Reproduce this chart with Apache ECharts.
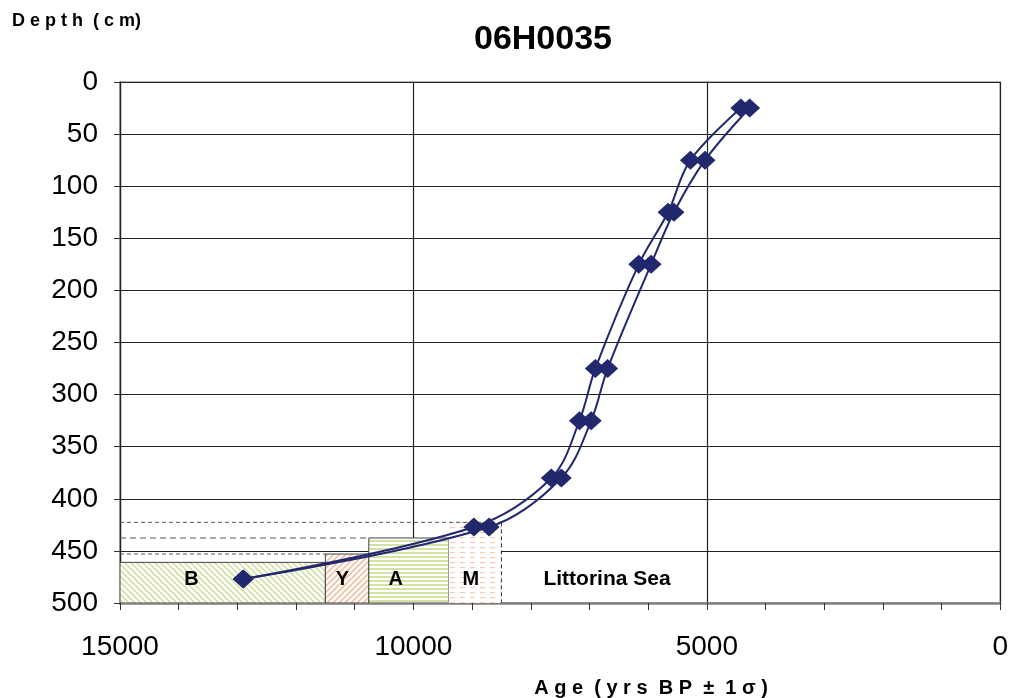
<!DOCTYPE html>
<html>
<head>
<meta charset="utf-8">
<script src="https://cdn.jsdelivr.net/npm/echarts@6/dist/echarts.min.js"></script>
<style>
html,body{margin:0;padding:0;background:#fff;}
#c{width:1011px;height:698px;}
</style>
</head>
<body>
<div id="c"></div>
<script>
// ---- data ----
const depths = [25, 75, 125, 175, 275, 325, 380, 427, 477];
const ageOlder = [4420, 5280, 5660, 6160, 6900, 7170, 7650, 8970, 12900];
const ageYounger = [4270, 5030, 5560, 5950, 6690, 6970, 7480, 8710, 12900];

const zoneNames = ['B', 'Y', 'A', 'M'];
const zoneOld = [15000, 11500, 10760, 9400];
const zoneYoung = [11500, 10760, 9400, 8500];
const zoneTop = [461, 453, 437.6, 422.6];
const zoneLabelAge = [13780, 11210, 10300, 9020];
const zoneLabelDepth = 477;

const seaLabel = 'Littorina Sea';
const seaLabelAge = 6700;

const xTicks = [15000, 10000, 5000, 0];
const yTicks = [0, 50, 100, 150, 200, 250, 300, 350, 400, 450, 500];

const titleText = '06H0035';
const yTitle = 'D e p t h  ( c m)';
const xTitle = 'A g e  ( y r s  B P  ±  1 σ )';

// ---- patterns ----
function makePattern(kind) {
  const c = document.createElement('canvas');
  const s = 6;
  c.width = s; c.height = s;
  const g = c.getContext('2d');
  g.fillStyle = '#ffffff';
  g.fillRect(0, 0, s, s);
  g.lineWidth = 1.6;
  if (kind === 'B') {
    g.strokeStyle = '#d3e2a2';
    g.beginPath();
    g.moveTo(-1, -1); g.lineTo(s + 1, s + 1);
    g.moveTo(-1 - s, -1); g.lineTo(1, s + 1);
    g.moveTo(s - 1, -1); g.lineTo(2 * s + 1, s + 1);
    g.stroke();
  } else if (kind === 'Y') {
    g.strokeStyle = '#f6bfa0';
    g.beginPath();
    g.moveTo(-1, s + 1); g.lineTo(s + 1, -1);
    g.moveTo(-1 - s, s + 1); g.lineTo(1, -1);
    g.moveTo(s - 1, s + 1); g.lineTo(2 * s + 1, -1);
    g.stroke();
  } else if (kind === 'A') {
    c.height = 4;
    g.fillStyle = '#ffffff'; g.fillRect(0, 0, s, 4);
    g.fillStyle = '#d2e2a4'; g.fillRect(0, 0, s, 2);
  } else {
    c.width = 10; c.height = 5;
    g.fillStyle = '#ffffff'; g.fillRect(0, 0, 10, 5);
    g.fillStyle = '#f8ccb4'; g.fillRect(0, 2, 5, 1.2);
  }
  return { image: c, repeat: 'repeat' };
}
const patterns = zoneNames.map(makePattern);

const zoneData = zoneNames.map((n, i) => [zoneOld[i], zoneYoung[i], zoneTop[i], i, zoneLabelAge[i]]);

const lineColor = '#22286e';
const chart = echarts.init(document.getElementById('c'), null, { renderer: 'canvas' });

const option = {
  backgroundColor: '#ffffff',
  animation: false,
  graphic: [
    { type: 'text', x: 543, y: 40, z: 10,
      style: { text: titleText, font: 'bold 34px "Liberation Sans"', fill: '#000', textAlign: 'center', textVerticalAlign: 'middle' } },
    { type: 'text', x: 12, y: 21, z: 10,
      style: { text: yTitle, font: 'bold 18px "Liberation Sans"', fill: '#000', textAlign: 'left', textVerticalAlign: 'middle' } },
    { type: 'text', x: 651, y: 688, z: 10,
      style: { text: xTitle, font: 'bold 20px "Liberation Sans"', fill: '#000', textAlign: 'center', textVerticalAlign: 'middle' } }
  ],
  grid: { left: 120, right: 8, top: 82, bottom: 95, containLabel: false, show: true, borderColor: '#a0a0a0', borderWidth: 1.5 },
  xAxis: {
    type: 'value', min: 0, max: 15000, interval: 5000, inverse: true,
    axisLine: { show: true, onZero: false, lineStyle: { color: '#808080', width: 2.5 } },
    axisTick: { show: true, length: 7, lineStyle: { color: '#333', width: 1 } },
    minorTick: { show: true, splitNumber: 5, length: 7, lineStyle: { color: '#333', width: 1 } },
    splitLine: { show: true, lineStyle: { color: '#222', width: 1.2 } },
    axisLabel: { margin: 30, fontFamily: 'Liberation Sans', fontSize: 28, color: '#000',
      formatter: v => xTicks.includes(v) ? String(v) : '' }
  },
  yAxis: {
    type: 'value', min: 0, max: 500, interval: 50, inverse: true,
    axisLine: { show: true, onZero: false, lineStyle: { color: '#222', width: 1.3 } },
    axisTick: { show: true, inside: false, length: 6, lineStyle: { color: '#333', width: 1 } },
    splitLine: { show: true, lineStyle: { color: '#222', width: 1.2 } },
    axisLabel: { margin: 22, fontFamily: 'Liberation Sans', fontSize: 28, color: '#000',
      formatter: v => yTicks.includes(v) ? String(v) : '' }
  },
  series: [
    {
      type: 'custom',
      z: 1,
      silent: true,
      clip: true,
      data: zoneData,
      encode: { x: [0, 1], y: 2 },
      renderItem: function (params, api) {
        const i = api.value(3);
        const p0 = api.coord([api.value(0), api.value(2)]);
        const p1 = api.coord([api.value(1), 500]);
        const lc = api.coord([api.value(4), zoneLabelDepth]);
        const isM = i === 3;
        const children = [
          { type: 'rect', shape: { x: p0[0], y: p0[1], width: p1[0] - p0[0], height: p1[1] - p0[1] },
            style: { fill: patterns[i], stroke: isM ? null : '#444', lineWidth: 1 } },
          { type: 'text', x: lc[0], y: lc[1],
            style: { text: zoneNames[i], fill: '#000', font: 'bold 20px "Liberation Sans"', textAlign: 'center', textVerticalAlign: 'middle' } }
        ];
        if (isM) {
          children.push({ type: 'line', shape: { x1: p1[0], y1: p0[1], x2: p1[0], y2: p1[1] + 6 },
            style: { stroke: '#333', lineWidth: 1, lineDash: [4, 3] } });
        }
        return { type: 'group', children: children };
      }
    },
    {
      type: 'custom', z: 2, silent: true,
      data: [[seaLabelAge, zoneLabelDepth]],
      renderItem: function (params, api) {
        const p = api.coord([api.value(0), api.value(1)]);
        return { type: 'text', x: p[0], y: p[1],
          style: { text: seaLabel, fill: '#000', font: 'bold 21px "Liberation Sans"', textAlign: 'center', textVerticalAlign: 'middle' } };
      }
    },
    {
      type: 'line', z: 2, silent: true, symbol: 'none',
      lineStyle: { color: '#555', width: 1, type: [4, 3] },
      data: [[15000, zoneTop[3]], [zoneYoung[3], zoneTop[3]]]
    },
    {
      type: 'line', z: 2, silent: true, symbol: 'none',
      lineStyle: { color: '#555', width: 1, type: [6, 4] },
      data: [[15000, zoneTop[2]], [zoneOld[2], zoneTop[2]]]
    },
    {
      type: 'line', z: 2, silent: true, symbol: 'none',
      lineStyle: { color: '#555', width: 1, type: [4, 3] },
      data: [[15000, zoneTop[1]], [zoneOld[1], zoneTop[1]]]
    },
    {
      name: 'older', type: 'line', z: 5,
      smooth: 0.35,
      symbol: 'diamond', symbolSize: [21, 19],
      itemStyle: { color: lineColor },
      lineStyle: { color: lineColor, width: 2 },
      data: depths.map((d, i) => [ageOlder[i], d])
    },
    {
      name: 'younger', type: 'line', z: 5,
      smooth: 0.35,
      symbol: 'diamond', symbolSize: [21, 19],
      itemStyle: { color: lineColor },
      lineStyle: { color: lineColor, width: 2 },
      data: depths.map((d, i) => [ageYounger[i], d])
    }
  ]
};
chart.setOption(option);
</script>
</body>
</html>
